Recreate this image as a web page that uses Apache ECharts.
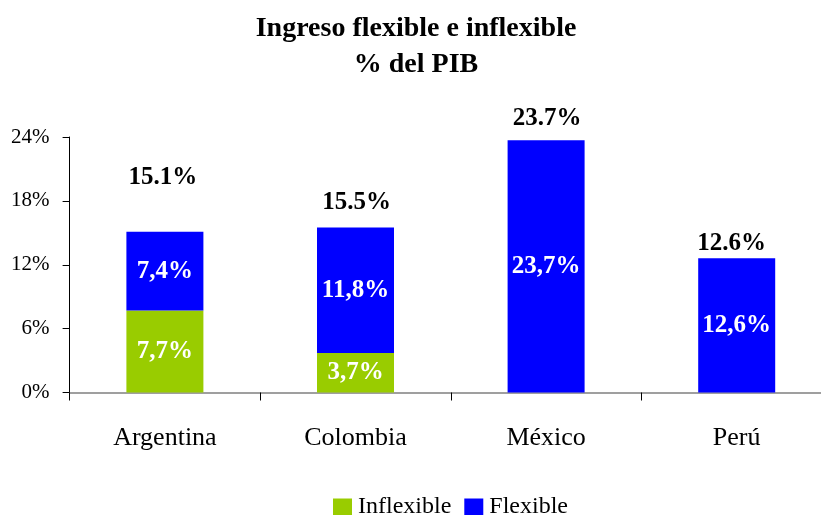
<!DOCTYPE html>
<html>
<head>
<meta charset="utf-8">
<script src="https://cdn.jsdelivr.net/npm/echarts@6/dist/echarts.min.js"></script>
<style>
  html, body { margin: 0; padding: 0; background: #fff; overflow: hidden; }
  #chart { width: 832px; height: 515px; }
</style>
</head>
<body>
<div id="chart"></div>
<script>
// ---- data ----
const categories = ['Argentina', 'Colombia', 'México', 'Perú'];
const inflexible = [7.7, 3.7, 0, 0];
const flexible = [7.4, 11.8, 23.7, 12.6];
const totals = [15.1, 15.5, 23.7, 12.6];
const yTicks = [0, 6, 12, 18, 24];

// ---- style (label nudges for the total labels, as placed in the original) ----
const totalLabelOffsets = [[-2, -42], [1, -12], [1, -9], [-5, -2]];

const serif = "'Liberation Serif', 'Times New Roman', serif";
const chart = echarts.init(document.getElementById('chart'), null, { renderer: 'canvas' });

const fmtComma = v => v ? v.toFixed(1).replace('.', ',') + '%' : '';

chart.setOption({
  animation: false,
  backgroundColor: '#ffffff',
  title: {
    text: 'Ingreso flexible e inflexible\n% del PIB',
    left: 'center',
    top: 6,
    textStyle: { fontFamily: serif, fontWeight: 'bold', fontSize: 28, lineHeight: 36, color: '#000' }
  },
  legend: {
    data: ['Inflexible', 'Flexible'],
    left: 333,
    top: 495,
    padding: 0,
    itemWidth: 19,
    itemHeight: 17,
    itemGap: 13,
    icon: 'rect',
    textStyle: { fontFamily: serif, fontSize: 24, lineHeight: 20, color: '#000', padding: [0, 0, 0, 1] }
  },
  grid: { left: 69.6, right: 0, top: 137, bottom: 122.5, containLabel: false },
  xAxis: {
    type: 'category',
    data: categories,
    axisLine: { lineStyle: { color: '#808080', width: 1.5 } },
    axisTick: { show: true, length: 8, lineStyle: { color: '#000' } },
    axisLabel: { fontFamily: serif, fontSize: 26, color: '#000', margin: 33 }
  },
  yAxis: {
    type: 'value',
    min: yTicks[0],
    max: yTicks[yTicks.length - 1],
    interval: yTicks[1] - yTicks[0],
    axisLine: { show: true, lineStyle: { color: '#000' } },
    axisTick: { show: true, length: 7, lineStyle: { color: '#000' } },
    splitLine: { show: false },
    axisLabel: { fontFamily: serif, fontSize: 21, color: '#000', margin: 20, formatter: v => v + '%' }
  },
  series: [
    {
      name: 'Inflexible',
      type: 'bar',
      stack: 'ing',
      barWidth: 77,
      data: inflexible,
      itemStyle: { color: '#99CC00' },
      label: { show: true, position: 'inside', formatter: p => fmtComma(p.value),
               fontFamily: serif, fontWeight: 'bold', fontSize: 25, color: '#fff' }
    },
    {
      name: 'Flexible',
      type: 'bar',
      stack: 'ing',
      barWidth: 77,
      data: flexible,
      itemStyle: { color: '#0000FF' },
      label: { show: true, position: 'inside', formatter: p => fmtComma(p.value),
               fontFamily: serif, fontWeight: 'bold', fontSize: 25, color: '#fff' }
    },
    {
      name: 'Total',
      type: 'bar',
      barWidth: 77,
      barGap: '-100%',
      silent: true,
      z: 1,
      data: totals.map((v, i) => ({
        value: v,
        label: { offset: totalLabelOffsets[i] }
      })),
      itemStyle: { color: 'rgba(0,0,0,0)' },
      label: { show: true, position: 'top', distance: 0, formatter: p => p.value.toFixed(1) + '%',
               fontFamily: serif, fontWeight: 'bold', fontSize: 25, color: '#000' }
    }
  ]
});
</script>
</body>
</html>
